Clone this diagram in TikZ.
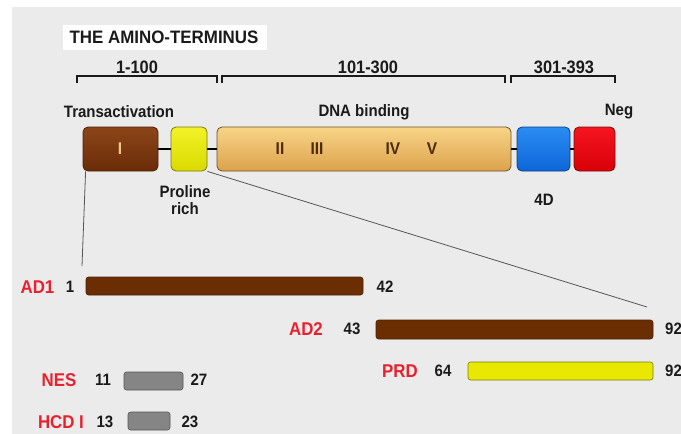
\documentclass[tikz,border=0pt]{standalone}
\usepackage{graphicx}
\usepackage{fontspec}
\setmainfont{Liberation Sans}
\newcommand{\nar}[1]{\scalebox{0.91}[1]{#1}}
\newcommand{\narT}[1]{\scalebox{0.94}[1]{#1}}
\definecolor{bg}{HTML}{EBEBEB}
\definecolor{brownT}{HTML}{8C4519}
\definecolor{brownB}{HTML}{6A2C08}
\definecolor{brownL}{HTML}{4E2006}
\definecolor{barbrown}{HTML}{6B2E02}
\definecolor{yelT}{HTML}{F2F228}
\definecolor{yelB}{HTML}{DADA00}
\definecolor{yelbar}{HTML}{E8E800}
\definecolor{yelL}{HTML}{7A7A10}
\definecolor{dnaT}{HTML}{F8D487}
\definecolor{dnaB}{HTML}{DCA24C}
\definecolor{dnaL}{HTML}{6E5020}
\definecolor{bluT}{HTML}{2A8CF2}
\definecolor{bluB}{HTML}{0E66D8}
\definecolor{bluL}{HTML}{0A3F8A}
\definecolor{rdT}{HTML}{F51520}
\definecolor{rdB}{HTML}{D80008}
\definecolor{rdL}{HTML}{7A0A0A}
\definecolor{redtxt}{HTML}{E8212F}
\definecolor{grybar}{HTML}{858585}
\definecolor{gryL}{HTML}{555555}
\definecolor{romdark}{HTML}{4A2C0A}
\definecolor{romlight}{HTML}{F2C58C}
\definecolor{txt}{HTML}{1A1A1A}
\begin{document}
\begin{tikzpicture}[x=1pt,y=-1pt,
  dom/.style={rectangle, rounded corners=5pt, inner sep=0pt, minimum height=44pt, line width=0.8pt},
  bar/.style={rectangle, rounded corners=2.5pt, inner sep=0pt, minimum height=18pt, line width=0.6pt},
  ttl/.style={font=\fontsize{18}{20}\selectfont\bfseries, text=txt, inner sep=0pt},
  rng/.style={font=\fontsize{18}{20}\selectfont\bfseries, text=txt, inner sep=0pt},
  lab/.style={font=\fontsize{16.5}{18}\selectfont\bfseries, text=txt, inner sep=0pt},
  roman/.style={font=\fontsize{17}{19}\selectfont\bfseries, inner sep=0pt},
  redlab/.style={font=\fontsize{18.5}{20}\selectfont\bfseries, text=redtxt, inner sep=0pt},
  num/.style={font=\fontsize{16.5}{18}\selectfont\bfseries, text=txt, inner sep=0pt},
  brk/.style={line width=1.4pt, txt},
  link/.style={line width=2pt, black},
  guide/.style={line width=0.8pt, gryL}
]
\useasboundingbox (0,0) rectangle (681,434);
\fill[white] (0,0) rectangle (681,434);
\fill[bg] (12,7) rectangle (681,434);

% title
\node[fill=white, minimum width=204pt, minimum height=25pt, inner sep=0pt] (titlebox) at (165,37.5) {};
\node[ttl] (title) at (164,37.5) {\narT{THE AMINO-TERMINUS}};

% range brackets
\draw[brk] (77,83) -- (77,76) -- (217,76) -- (217,83);
\draw[brk] (222,83) -- (222,76) -- (505,76) -- (505,83);
\draw[brk] (511,83) -- (511,76) -- (615,76) -- (615,83);
\node[rng] (r1) at (137,67) {\nar{1-100}};
\node[rng] (r2) at (368,67) {\nar{101-300}};
\node[rng] (r3) at (564,67) {\nar{301-393}};

% domain labels
\node[lab] (ta) at (119,112) {\nar{Transactivation}};
\node[lab] (dnab) at (364,112) {\nar{DNA binding}};
\node[lab] (neg) at (619,112) {\nar{Neg}};

% domains
\node[dom, top color=brownT, bottom color=brownB, draw=brownL, minimum width=75pt] (brown) at (120.5,149) {};
\node[dom, top color=yelT, bottom color=yelB, draw=yelL, minimum width=36pt] (yellow) at (189,149) {};
\node[dom, top color=dnaT, bottom color=dnaB, draw=dnaL, minimum width=294pt] (dna) at (364,149) {};
\node[dom, top color=bluT, bottom color=bluB, draw=bluL, minimum width=53pt] (blue) at (543.5,149) {};
\node[dom, top color=rdT, bottom color=rdB, draw=rdL, minimum width=41pt] (red) at (594.5,149) {};

\draw[link] (brown.east) -- (yellow.west);
\draw[link] (yellow.east) -- (dna.west);
\draw[link] (dna.east) -- (blue.west);
\draw[link] (blue.east) -- (red.west);

% roman numerals
\node[roman, text=romlight] (n1) at (120,149) {\nar{I}};
\node[roman, text=romdark] (n2) at (280,149) {\nar{II}};
\node[roman, text=romdark] (n3) at (317,149) {\nar{III}};
\node[roman, text=romdark] (n4) at (393,149) {\nar{IV}};
\node[roman, text=romdark] (n5) at (432,149) {\nar{V}};

% sub labels
\node[lab, align=center] (pro) at (185,200) {\nar{Proline}\\[-1pt]\nar{rich}};
\node[lab] (fourd) at (544,200) {\nar{4D}};

% guide lines
\coordinate (g1) at (82,266);
\coordinate (g2) at (647,307);
\draw[guide] ([xshift=3pt]brown.south west) -- (g1);
\draw[guide] (yellow.south east) -- (g2);

% AD1
\node[bar, fill=barbrown, draw=brownL, minimum width=277pt] (ad1) at (224.5,286) {};
\node[redlab] (ad1l) at (37.5,287) {\nar{AD1}};
\node[num] (ad1a) at (70,287) {\nar{1}};
\node[num] (ad1b) at (385,287) {\nar{42}};

% AD2
\node[bar, fill=barbrown, draw=brownL, minimum width=277pt, minimum height=19pt] (ad2) at (514.5,329.5) {};
\node[redlab] (ad2l) at (306,329) {\nar{AD2}};
\node[num] (ad2a) at (352,329) {\nar{43}};
\node[num, anchor=west] (ad2b) at (665,329) {\nar{92}};

% PRD
\node[bar, fill=yelbar, draw=yelL, minimum width=185pt] (prd) at (560.5,371) {};
\node[redlab] (prdl) at (400,371) {\nar{PRD}};
\node[num] (prda) at (443,371) {\nar{64}};
\node[num, anchor=west] (prdb) at (665,371) {\nar{92}};

% NES
\node[bar, fill=grybar, draw=gryL, minimum width=59pt] (nes) at (153.5,381) {};
\node[redlab] (nesl) at (59,380) {\nar{NES}};
\node[num] (nesa) at (103,380) {\nar{11}};
\node[num] (nesb) at (199,380) {\nar{27}};

% HCD I
\node[bar, fill=grybar, draw=gryL, minimum width=42pt] (hcd) at (149,421) {};
\node[redlab] (hcdl) at (61,422) {\nar{HCD I}};
\node[num] (hcda) at (105,422) {\nar{13}};
\node[num] (hcdb) at (190,422) {\nar{23}};
\end{tikzpicture}
\end{document}
